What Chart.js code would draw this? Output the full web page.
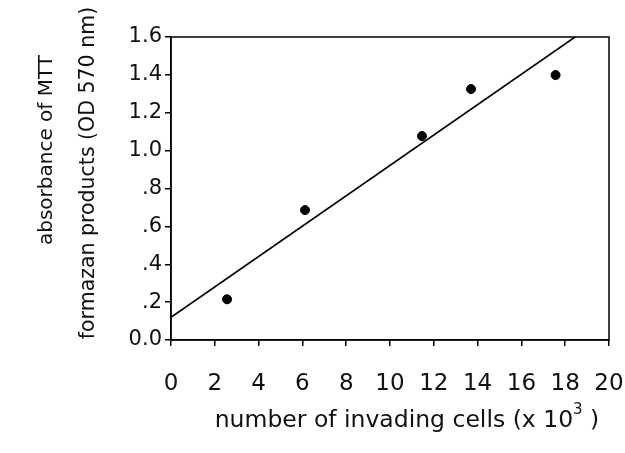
<!DOCTYPE html>
<html>
<head>
<meta charset="utf-8">
<script src="https://cdn.jsdelivr.net/npm/chart.js@4/dist/chart.umd.min.js"></script>
<style>
  html, body { margin: 0; padding: 0; background: #fff; }
  .wrap { width: 625px; height: 453px; position: relative; }
</style>
</head>
<body>
<div class="wrap"><canvas id="mttChart" width="625" height="453"></canvas></div>
<script>
// invading cells (x 10^3) vs. MTT absorbance
const cellsX = [2.56, 6.12, 11.46, 13.7, 17.56];
const absorbance = [0.215, 0.686, 1.077, 1.325, 1.399];

// regression line end points
const fitX = [0, 18.45];
const fitY = [0.12, 1.6];

const xTicks = [0, 2, 4, 6, 8, 10, 12, 14, 16, 18, 20];
const yTickLabels = ['0.0', '.2', '.4', '.6', '.8', '1.0', '1.2', '1.4', '1.6'];

const FONT = '"DejaVu Sans", sans-serif';

const frame = {
  id: 'frame',
  afterDraw(chart) {
    const { ctx, chartArea: a } = chart;
    ctx.save();
    ctx.strokeStyle = '#000';
    ctx.lineWidth = 1.5;
    ctx.strokeRect(a.left, a.top, a.right - a.left, a.bottom - a.top);

    // axis titles
    ctx.fillStyle = '#111';
    ctx.textBaseline = 'middle';
    ctx.font = '23.5px ' + FONT;
    const main = 'number of invading cells (x 10';
    const wMain = ctx.measureText(main).width;
    const wEnd = ctx.measureText(' )').width;
    ctx.font = '15px ' + FONT;
    const wSup = ctx.measureText('3').width;
    let x = 407 - (wMain + wSup + wEnd) / 2;
    ctx.textAlign = 'left';
    ctx.font = '23.5px ' + FONT;
    ctx.fillText(main, x, 421);
    x += wMain;
    ctx.font = '15px ' + FONT;
    ctx.fillText('3', x, 410);
    x += wSup;
    ctx.font = '23.5px ' + FONT;
    ctx.fillText(' )', x, 421);

    ctx.textAlign = 'center';
    ctx.font = '20px ' + FONT;
    ctx.translate(47, 150);
    ctx.rotate(-Math.PI / 2);
    ctx.fillText('absorbance of MTT', 0, 0);
    ctx.rotate(Math.PI / 2);
    ctx.translate(42, 23);
    ctx.rotate(-Math.PI / 2);
    ctx.font = '20.5px ' + FONT;
    ctx.fillText('formazan products (OD 570 nm)', 0, 0);
    ctx.restore();
  }
};

new Chart(document.getElementById('mttChart'), {
  type: 'scatter',
  data: {
    datasets: [
      {
        label: 'measured',
        data: cellsX.map((x, i) => ({ x, y: absorbance[i] })),
        backgroundColor: '#000',
        borderColor: '#000',
        pointRadius: 4.5,
        pointHoverRadius: 4.5,
      },
      {
        label: 'fit',
        type: 'line',
        data: fitX.map((x, i) => ({ x, y: fitY[i] })),
        borderColor: '#000',
        borderWidth: 1.6,
        pointRadius: 0,
        fill: false,
      },
    ],
  },
  options: {
    responsive: false,
    animation: false,
    layout: { padding: { top: 37, right: 16, left: 0, bottom: 0 } },
    plugins: { legend: { display: false }, tooltip: { enabled: false } },
    scales: {
      x: {
        type: 'linear',
        min: 0, max: 20,
        afterBuildTicks: s => { s.ticks = xTicks.map(v => ({ value: v })); },
        afterFit: s => { s.height = 113; s.paddingLeft = 0; s.paddingRight = 0; },
        border: { display: true, color: '#000', width: 1.5 },
        grid: { drawOnChartArea: false, drawTicks: true, tickLength: 6, color: '#000', lineWidth: 1.5 },
        ticks: { color: '#111', font: { family: FONT, size: 23 }, padding: 24, maxRotation: 0, autoSkip: false },
      },
      y: {
        min: 0, max: 1.6,
        afterBuildTicks: s => { s.ticks = yTickLabels.map((t, i) => ({ value: i * 0.2 })); },
        afterFit: s => { s.width = 171; s.paddingTop = 0; s.paddingBottom = 0; },
        border: { display: true, color: '#000', width: 1.5 },
        grid: { drawOnChartArea: false, drawTicks: true, tickLength: 6, color: '#000', lineWidth: 1.5 },
        ticks: {
          color: '#111', font: { family: FONT, size: 21 }, padding: 3, autoSkip: false,
          callback: (v, i) => yTickLabels[i],
        },
      },
    },
  },
  plugins: [frame],
});
</script>
</body>
</html>
